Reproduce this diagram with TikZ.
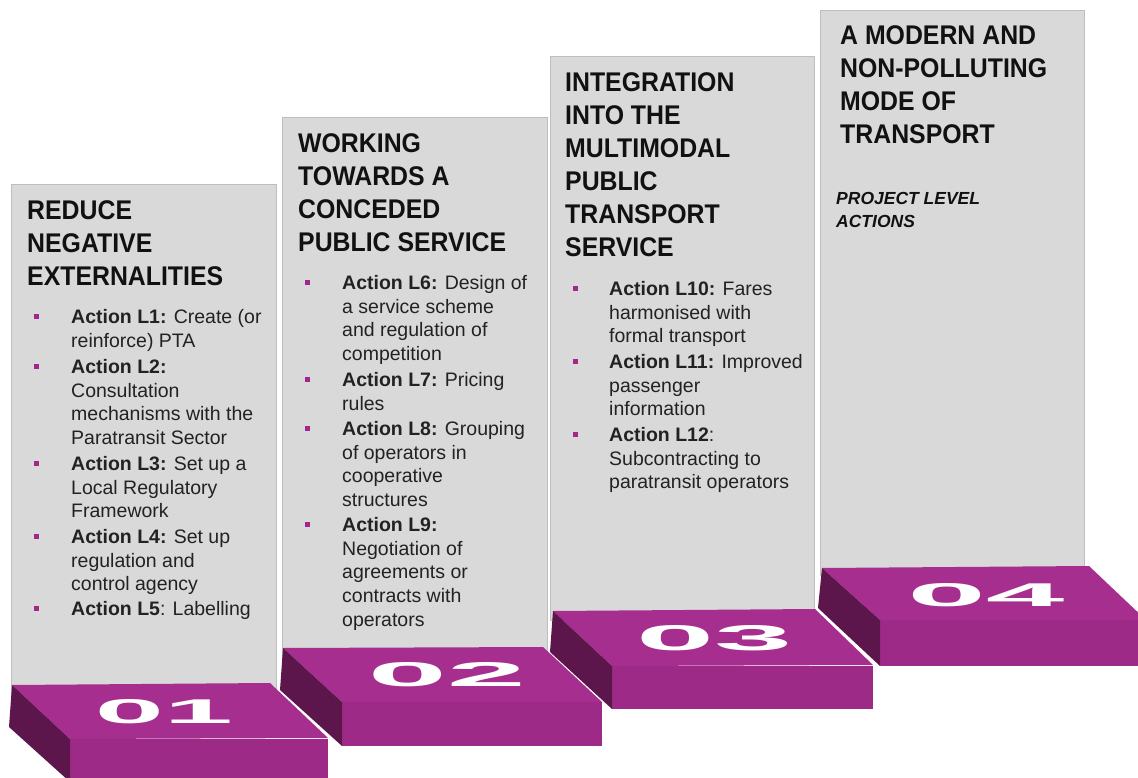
\documentclass[tikz,border=0pt]{standalone}
\usepackage{fontspec}
\usepackage{graphicx}
\setmainfont{Liberation Sans}
\newfontfamily\titlefont[FakeStretch=0.92]{Liberation Sans}
\definecolor{panelgray}{RGB}{217,217,217}
\definecolor{panelline}{RGB}{190,190,190}
\definecolor{topmag}{RGB}{166,46,142}
\definecolor{frontmag}{RGB}{157,42,134}
\definecolor{sidemag}{RGB}{92,22,76}
\definecolor{bulletmag}{RGB}{160,40,140}
\definecolor{titleblack}{RGB}{17,17,17}
\definecolor{bodyblack}{RGB}{34,34,34}
\newcommand\bodystrut{\rule{0pt}{16pt}}
\newcommand\titlestrut{\rule{0pt}{22pt}}
\newcommand\italstrut{\rule{0pt}{14pt}}
\begin{document}
\begin{tikzpicture}[x=1pt,y=-1pt,
  panel/.style={fill=panelgray, draw=panelline, line width=0.8pt},
  topface/.style={fill=topmag, draw=none},
  frontface/.style={fill=frontmag, draw=none},
  sideface/.style={fill=sidemag, draw=none},
  title/.style={anchor=north west, align=left, inner sep=0pt, text=titleblack,
    font=\titlefont\bfseries\fontsize{27}{33}\selectfont},
  body/.style={anchor=north west, align=left, inner sep=0pt, text=bodyblack,
    font=\fontsize{19.5}{23.8}\selectfont},
  bul/.style={fill=bulletmag, draw=none, minimum size=5pt, inner sep=0pt},
  num/.style={text=white, inner sep=0pt, font=\bfseries}
]
\useasboundingbox (0,0) rectangle (1138,778);
\begin{scope}
\clip (0,0) rectangle (1138,778);
% panels
\path[panel] (11,184) rectangle (276,700);
\path[panel] (282,117) rectangle (547,660);
\path[panel] (550,56) rectangle (814,620);
\path[panel] (820,10) rectangle (1084,575);

% block 4
\path[topface] (822,568) -- (1089,566) -- (1146,620) -- (880,620) -- cycle;
\path[frontface] (880,620) rectangle (1146,666);
\path[sideface] (822,568) -- (880,620) -- (880,666) -- (818,608) -- cycle;
% block 3
\path[topface] (553,611) -- (815,609) -- (873,665) -- (612,666) -- cycle;
\path[frontface] (612,665.5) rectangle (873,709);
\path[sideface] (553,611) -- (612,666) -- (612,709) -- (550,652) -- cycle;
% block 2
\path[topface] (283,648) -- (543,647) -- (602,702) -- (342,702) -- cycle;
\path[frontface] (342,702) rectangle (602,746);
\path[sideface] (283,648) -- (342,702) -- (342,746) -- (280,690) -- cycle;
% block 1
\path[topface] (12,685) -- (270,683) -- (328,738) -- (70,739) -- cycle;
\path[frontface] (70,738.5) rectangle (328,782);
\path[sideface] (12,685) -- (70,739) -- (70,782) -- (9,727) -- cycle;
\end{scope}

% numbers
\node[num] (n1) at (164,712) {\resizebox{138pt}{24pt}{\bfseries 01}};
\node[num] (n2) at (447,675) {\resizebox{158pt}{24pt}{\bfseries 02}};
\node[num] (n3) at (715,638) {\resizebox{156pt}{25pt}{\bfseries 03}};
\node[num] (n4) at (986,595) {\resizebox{157pt}{23pt}{\bfseries 04}};

% titles
\node[title] (h1) at (27,197) {\titlestrut REDUCE\\NEGATIVE\\EXTERNALITIES};
\node[title] (h2) at (298,130) {\titlestrut WORKING\\TOWARDS A\\CONCEDED\\PUBLIC SERVICE};
\node[title] (h3) at (565,69) {\titlestrut INTEGRATION\\INTO THE\\MULTIMODAL\\PUBLIC\\TRANSPORT\\SERVICE};
\node[title] (h4) at (840,22) {\titlestrut A MODERN AND\\NON-POLLUTING\\MODE OF\\TRANSPORT};
\node[anchor=north west, align=left, inner sep=0pt, text=titleblack,
  font=\bfseries\itshape\fontsize{17.5}{23}\selectfont] (p4) at (836,190) {\italstrut PROJECT LEVEL\\ACTIONS};

% panel 1 items
\node[bul] (b1) at (36,316) {};
\node[body] (t1) at (71,307) {\bodystrut\textbf{Action L1:} Create (or\\reinforce) PTA};
\node[bul] (b2) at (36,366) {};
\node[body] (t2) at (71,357) {\bodystrut\textbf{Action L2:}\\Consultation\\mechanisms with the\\Paratransit Sector};
\node[bul] (b3) at (36,463) {};
\node[body] (t3) at (71,454) {\bodystrut\textbf{Action L3:} Set up a\\Local Regulatory\\Framework};
\node[bul] (b4) at (36,536) {};
\node[body] (t4) at (71,527) {\bodystrut\textbf{Action L4:} Set up\\regulation and\\control agency};
\node[bul] (b5) at (36,608) {};
\node[body] (t5) at (71,599) {\bodystrut\textbf{Action L5}: Labelling};

% panel 2 items
\node[bul] (b6) at (307,282) {};
\node[body] (t6) at (342,273) {\bodystrut\textbf{Action L6:} Design of\\a service scheme\\and regulation of\\competition};
\node[bul] (b7) at (307,379) {};
\node[body] (t7) at (342,370) {\bodystrut\textbf{Action L7:} Pricing\\rules};
\node[bul] (b8) at (307,428) {};
\node[body] (t8) at (342,419) {\bodystrut\textbf{Action L8:} Grouping\\of operators in\\cooperative\\structures};
\node[bul] (b9) at (307,524) {};
\node[body] (t9) at (342,515) {\bodystrut\textbf{Action L9:}\\Negotiation of\\agreements or\\contracts with\\operators};

% panel 3 items
\node[bul] (b10) at (575,288) {};
\node[body] (t10) at (609,279) {\bodystrut\textbf{Action L10:} Fares\\harmonised with\\formal transport};
\node[bul] (b11) at (575,361) {};
\node[body] (t11) at (609,352) {\bodystrut\textbf{Action L11:} Improved\\passenger\\information};
\node[bul] (b12) at (575,434) {};
\node[body] (t12) at (609,425) {\bodystrut\textbf{Action L12}:\\Subcontracting to\\paratransit operators};
\end{tikzpicture}
\end{document}
